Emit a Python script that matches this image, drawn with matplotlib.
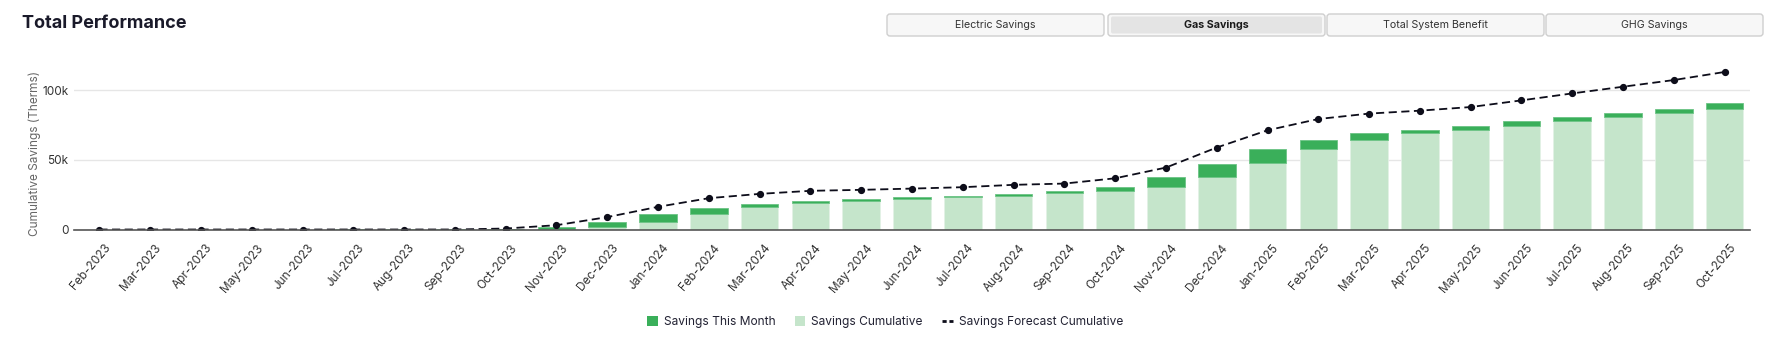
import matplotlib
matplotlib.use("Agg")
import matplotlib.pyplot as plt
from matplotlib.patches import FancyBboxPatch, Patch
from matplotlib.lines import Line2D
import matplotlib.transforms as mtransforms

plt.rcParams['font.family'] = ['Inter', 'DejaVu Sans']

months = ["Feb-2023", "Mar-2023", "Apr-2023", "May-2023", "Jun-2023", "Jul-2023",
          "Aug-2023", "Sep-2023", "Oct-2023", "Nov-2023", "Dec-2023",
          "Jan-2024", "Feb-2024", "Mar-2024", "Apr-2024", "May-2024", "Jun-2024",
          "Jul-2024", "Aug-2024", "Sep-2024", "Oct-2024", "Nov-2024", "Dec-2024",
          "Jan-2025", "Feb-2025", "Mar-2025", "Apr-2025", "May-2025", "Jun-2025",
          "Jul-2025", "Aug-2025", "Sep-2025", "Oct-2025"]

# Therms
savings_cumulative = [0, 0, 0, 0, 0, 100, 200, 200, 200, 300, 1700,
                      5500, 11200, 16000, 18700, 20300, 21800, 23200, 24400, 26100, 27500, 30900, 37600,
                      47600, 57700, 64100, 69100, 71800, 74200, 77800, 80600, 83500, 86800]
savings_this_month = [0, 0, 0, 0, 0, 300, 100, 100, 200, 1400, 3600,
                      5300, 4500, 2400, 1900, 1400, 1400, 1200, 1400, 1400, 3300, 6500, 9800,
                      10000, 6500, 5000, 2600, 2600, 3600, 3300, 2900, 3300, 3800]
forecast_cumulative = [0, 0, 0, 0, 0, 0, 0, 0, 700, 3100, 8900,
                       16300, 22500, 25600, 27800, 28500, 29400, 30400, 32100, 33000, 36800, 44500, 58900,
                       71300, 79400, 83300, 85400, 88000, 92800, 97800, 102600, 107400, 113200]

buttons = ["Electric Savings", "Gas Savings", "Total System Benefit", "GHG Savings"]
active_button = "Gas Savings"

W, H = 1772, 357
fig = plt.figure(figsize=(W / 100, H / 100), dpi=100)

DARK = "#3aaf5a"
LIGHT = "#c5e5cb"

ax_l, ax_r = 74, 1750
ax_top, ax_bot = 55, 229.5
ax = fig.add_axes([ax_l / W, 1 - ax_bot / H, (ax_r - ax_l) / W, (ax_bot - ax_top) / H])

x = list(range(len(months)))
bw = 0.74
ax.bar(x, savings_cumulative, width=bw, color=LIGHT, edgecolor="#e3f2e6", linewidth=0.6, zorder=2)
ax.bar(x, savings_this_month, width=bw, bottom=savings_cumulative, color=DARK,
       edgecolor="#6cc485", linewidth=0.6, zorder=2)
ax.plot(x, forecast_cumulative, color="#0d0d1a", linestyle=(0, (4.5, 2.5)), linewidth=1.3,
        marker="o", markersize=4.2, zorder=3)

ax.set_xlim(-0.5, len(months) - 0.5)
ax.set_ylim(0, 125400)
ax.set_yticks([0, 50000, 100000])
ax.set_yticklabels(["0", "50k", "100k"])
ax.grid(axis="y", color="#e6e6e6", linewidth=1, zorder=0)
ax.set_axisbelow(True)
for s in ["top", "right", "left"]:
    ax.spines[s].set_visible(False)
ax.spines["bottom"].set_color("#555555")
ax.spines["bottom"].set_linewidth(1.2)
ax.spines["bottom"].set_zorder(4)
ax.tick_params(axis="y", length=0, pad=4, labelsize=8.5, labelcolor="#333333")
ax.tick_params(axis="x", length=0, pad=6, labelsize=8.5, labelcolor="#333333")
ax.set_xticks(x)
ax.set_xticklabels(months, rotation=50, ha="right", va="center", rotation_mode="anchor")
offset = mtransforms.ScaledTranslation(9 / 100, -8 / 100, fig.dpi_scale_trans)
for lab in ax.get_xticklabels():
    lab.set_transform(lab.get_transform() + offset)

ax.set_ylabel("Cumulative Savings (Therms)", fontsize=8.5, color="#666666")
ax.yaxis.set_label_coords(-0.0195, 0.434)

fig.text(22 / W, 1 - 24 / H, "Total Performance", fontsize=13, fontweight="bold",
         color="#1a1a2a", ha="left", va="center")

# buttons
bax = fig.add_axes([0, 0, 1, 1])
bax.set_xlim(0, W)
bax.set_ylim(H, 0)
bax.axis("off")
bax.set_zorder(-1)
btn_x = [887, 1108, 1327, 1546]
btn_w = 217
for bx, name in zip(btn_x, buttons):
    active = name == active_button
    p = FancyBboxPatch((bx, 14), btn_w, 22, boxstyle="round,pad=0,rounding_size=3",
                       facecolor="#f7f7f7", edgecolor="#cfcfcf", linewidth=1)
    bax.add_patch(p)
    if active:
        p2 = FancyBboxPatch((bx + 3, 16.5), btn_w - 6, 17, boxstyle="round,pad=0,rounding_size=2",
                            facecolor="#e4e4e4", edgecolor="none")
        bax.add_patch(p2)
    bax.text(bx + btn_w / 2, 25, name, fontsize=7.7, color="#333333" if not active else "#1a1a1a",
             fontweight="bold" if active else "normal", ha="center", va="center")

handles = [Patch(facecolor=DARK, edgecolor="none"),
           Patch(facecolor=LIGHT, edgecolor="none"),
           Line2D([0], [0], color="#0d0d1a", linestyle=(0, (1.5, 1)), linewidth=2)]
labels = ["Savings This Month", "Savings Cumulative", "Savings Forecast Cumulative"]
fig.legend(handles, labels, loc="center", bbox_to_anchor=(885 / W, 1 - 322 / H), ncol=3,
           frameon=False, fontsize=8.6, handlelength=0.9, handleheight=0.9,
           handletextpad=0.5, columnspacing=1.6, labelcolor="#222233")

fig.savefig("out.png", dpi=100)
